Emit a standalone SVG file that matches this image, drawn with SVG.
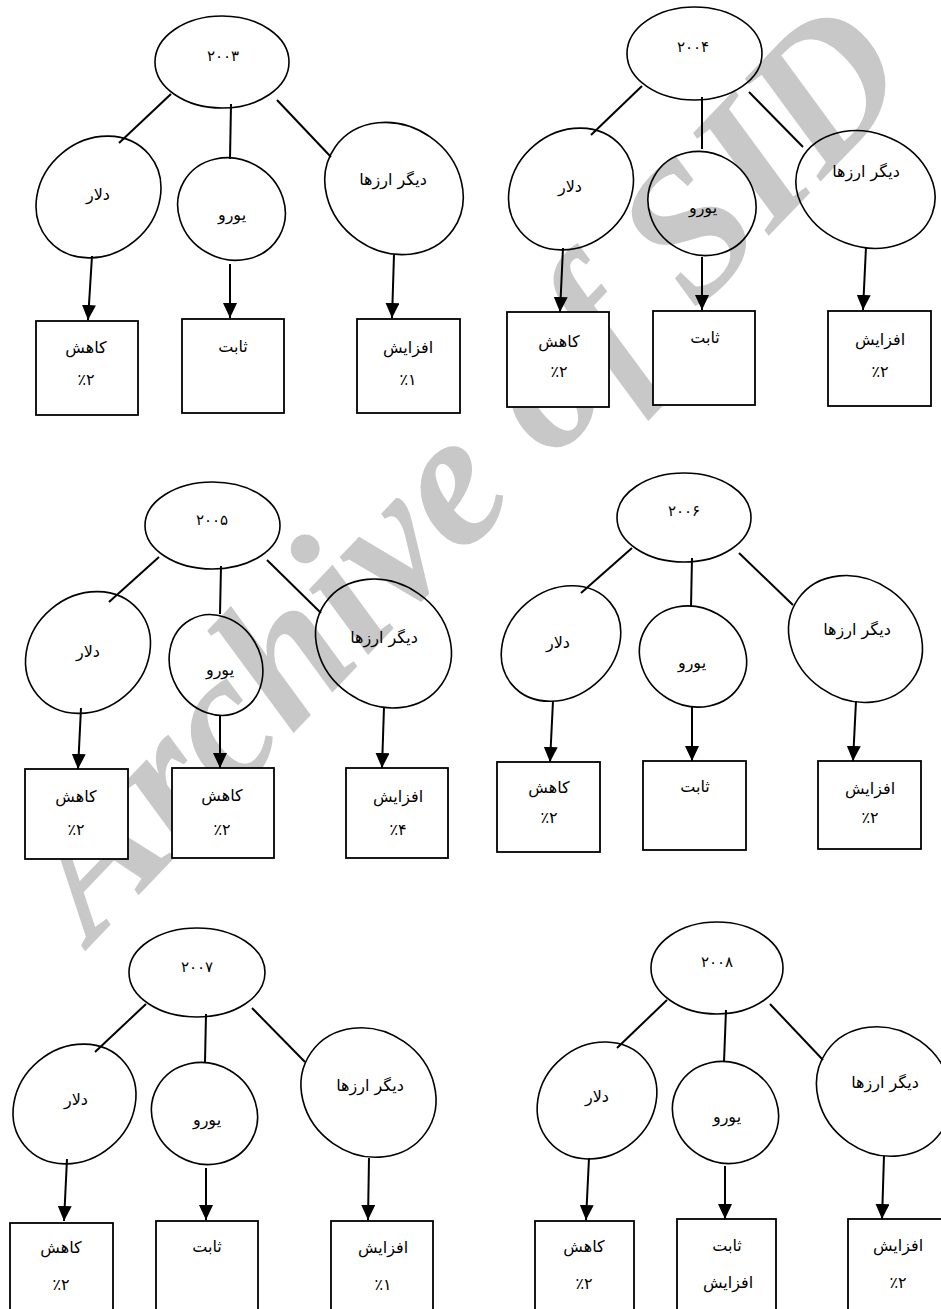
<svg xmlns="http://www.w3.org/2000/svg" width="941" height="1309" viewBox="0 0 941 1309">
<style>
.wm{font-family:"Liberation Serif",serif;font-weight:bold;font-style:italic;font-size:192px;fill:#c8c8c8}
ellipse{fill:none;stroke:#000;stroke-width:1.6}
.bx{fill:#fff;stroke:#000;stroke-width:1.8}
.ln{stroke:#000;stroke-width:2;fill:none}
.ar{stroke:#000;stroke-width:2;fill:none;marker-end:url(#ah)}
text.t{font-family:"DejaVu Sans","Noto Sans",sans-serif;font-size:16px;text-anchor:middle;fill:#000}
text.y{font-size:15px;letter-spacing:1.5px}
</style>
<defs>
<marker id="ah" markerUnits="userSpaceOnUse" markerWidth="16" markerHeight="14" refX="15" refY="7" orient="auto">
<path d="M0,0 L15,7 L0,14 z" fill="#000"/>
</marker>
</defs>
<text class="wm" transform="translate(92,944) rotate(-46.3)">Archive of SID</text>

<g id="connectors">
<!-- 2003 -->
<line class="ln" x1="171" y1="94" x2="119" y2="143"/>
<line class="ln" x1="231" y1="104" x2="230" y2="159"/>
<line class="ln" x1="277" y1="100" x2="331" y2="157"/>
<line class="ar" x1="92" y1="256" x2="88" y2="320"/>
<line class="ar" x1="230" y1="264" x2="230" y2="318"/>
<line class="ar" x1="394" y1="255" x2="392" y2="318"/>
<!-- 2004 -->
<line class="ln" x1="642" y1="86" x2="591" y2="135"/>
<line class="ln" x1="702" y1="97" x2="702" y2="149"/>
<line class="ln" x1="749" y1="92" x2="803" y2="147"/>
<line class="ar" x1="563" y1="248" x2="560" y2="312"/>
<line class="ar" x1="702" y1="257" x2="702" y2="310"/>
<line class="ar" x1="866" y1="247" x2="863" y2="310"/>
<!-- 2005 -->
<line class="ln" x1="159" y1="557" x2="109" y2="602"/>
<line class="ln" x1="221" y1="566" x2="220" y2="614"/>
<line class="ln" x1="267" y1="560" x2="321" y2="613"/>
<line class="ar" x1="81" y1="708" x2="78" y2="769"/>
<line class="ar" x1="220" y1="716" x2="220" y2="768"/>
<line class="ar" x1="384" y1="707" x2="382" y2="768"/>
<!-- 2006 -->
<line class="ln" x1="632" y1="548" x2="581" y2="593"/>
<line class="ln" x1="692" y1="558" x2="691" y2="607"/>
<line class="ln" x1="739" y1="553" x2="793" y2="605"/>
<line class="ar" x1="553" y1="701" x2="550" y2="762"/>
<line class="ar" x1="692" y1="707" x2="692" y2="761"/>
<line class="ar" x1="856" y1="701" x2="853" y2="761"/>
<!-- 2007 -->
<line class="ln" x1="146" y1="1004" x2="95" y2="1052"/>
<line class="ln" x1="206" y1="1014" x2="205" y2="1063"/>
<line class="ln" x1="252" y1="1008" x2="305" y2="1062"/>
<line class="ar" x1="67" y1="1159" x2="64" y2="1221"/>
<line class="ar" x1="206" y1="1168" x2="206" y2="1220"/>
<line class="ar" x1="369" y1="1158" x2="368" y2="1220"/>
<!-- 2008 -->
<line class="ln" x1="667" y1="1000" x2="617" y2="1048"/>
<line class="ln" x1="726" y1="1010" x2="724" y2="1062"/>
<line class="ln" x1="770" y1="1004" x2="823" y2="1060"/>
<line class="ar" x1="589" y1="1158" x2="586" y2="1220"/>
<line class="ar" x1="725" y1="1166" x2="725" y2="1219"/>
<line class="ar" x1="884" y1="1156" x2="882" y2="1219"/>
</g>

<!-- ===== 2003 ===== -->
<g id="y2003"><ellipse cx="222" cy="62" rx="67" ry="46"/><text class="t y" x="223" y="61">۲۰۰۳</text></g>
<g id="y2003-dollar"><ellipse cx="98.5" cy="197" rx="66" ry="57" transform="rotate(-40 98.5 197)"/><text class="t" x="98" y="200">دلار</text></g>
<g id="y2003-euro"><ellipse cx="231.5" cy="209" rx="55" ry="50" transform="rotate(30 231.5 209)"/><text class="t" x="232" y="220">یورو</text></g>
<g id="y2003-other"><ellipse cx="394" cy="188.5" rx="72" ry="63" transform="rotate(35 394 188.5)"/><text class="t" x="393" y="185">دیگر ارزها</text></g>
<g id="y2003-b1"><rect class="bx" x="36" y="321" width="102" height="94"/><text class="t" x="86" y="353">کاهش</text><text class="t" x="86" y="385">٪۲</text></g>
<g id="y2003-b2"><rect class="bx" x="182" y="319" width="102" height="94"/><text class="t" x="233" y="352">ثابت</text></g>
<g id="y2003-b3"><rect class="bx" x="357" y="319" width="103" height="94"/><text class="t" x="408" y="353">افزایش</text><text class="t" x="408" y="385">٪۱</text></g>

<!-- ===== 2004 ===== -->
<g id="y2004"><ellipse cx="694.5" cy="53.5" rx="67.5" ry="46.5"/><text class="t y" x="693" y="52">۲۰۰۴</text></g>
<g id="y2004-dollar"><ellipse cx="571" cy="189" rx="66" ry="57" transform="rotate(-40 571 189)"/><text class="t" x="570" y="192">دلار</text></g>
<g id="y2004-euro"><ellipse cx="702" cy="203.5" rx="55" ry="51" transform="rotate(30 702 203.5)"/><text class="t" x="703" y="213">یورو</text></g>
<g id="y2004-other"><ellipse cx="865.5" cy="189.5" rx="71" ry="57" transform="rotate(20 865.5 189.5)"/><text class="t" x="866" y="177">دیگر ارزها</text></g>
<g id="y2004-b1"><rect class="bx" x="507" y="312" width="102" height="95"/><text class="t" x="559" y="347">کاهش</text><text class="t" x="559" y="377">٪۲</text></g>
<g id="y2004-b2"><rect class="bx" x="653" y="311" width="102" height="94"/><text class="t" x="705" y="343">ثابت</text></g>
<g id="y2004-b3"><rect class="bx" x="828" y="311" width="103" height="95"/><text class="t" x="880" y="345">افزایش</text><text class="t" x="880" y="377">٪۲</text></g>

<!-- ===== 2005 ===== -->
<g id="y2005"><ellipse cx="212.5" cy="525.5" rx="67.5" ry="43.5"/><text class="t y" x="212" y="525">۲۰۰۵</text></g>
<g id="y2005-dollar"><ellipse cx="88" cy="652.5" rx="66" ry="57" transform="rotate(-40 88 652.5)"/><text class="t" x="88" y="657">دلار</text></g>
<g id="y2005-euro"><ellipse cx="216" cy="665" rx="52" ry="45" transform="rotate(60 216 665)"/><text class="t" x="220" y="675">یورو</text></g>
<g id="y2005-other"><ellipse cx="383.5" cy="643.5" rx="71" ry="61" transform="rotate(35 383.5 643.5)"/><text class="t" x="384" y="643">دیگر ارزها</text></g>
<g id="y2005-b1"><rect class="bx" x="25" y="769" width="103" height="90"/><text class="t" x="76" y="802">کاهش</text><text class="t" x="76" y="835">٪۲</text></g>
<g id="y2005-b2"><rect class="bx" x="172" y="768" width="102" height="90"/><text class="t" x="222" y="801">کاهش</text><text class="t" x="222" y="835">٪۲</text></g>
<g id="y2005-b3"><rect class="bx" x="346" y="768" width="102" height="90"/><text class="t" x="398" y="802">افزایش</text><text class="t" x="398" y="835">٪۴</text></g>

<!-- ===== 2006 ===== -->
<g id="y2006"><ellipse cx="684" cy="517.5" rx="67" ry="44.5"/><text class="t y" x="684" y="516">۲۰۰۶</text></g>
<g id="y2006-dollar"><ellipse cx="561" cy="643.5" rx="64" ry="53" transform="rotate(-40 561 643.5)"/><text class="t" x="558" y="648">دلار</text></g>
<g id="y2006-euro"><ellipse cx="693" cy="656.5" rx="55" ry="49" transform="rotate(30 693 656.5)"/><text class="t" x="692" y="668">یورو</text></g>
<g id="y2006-other"><ellipse cx="855.5" cy="639" rx="70" ry="60" transform="rotate(35 855.5 639)"/><text class="t" x="857" y="635">دیگر ارزها</text></g>
<g id="y2006-b1"><rect class="bx" x="497" y="762" width="103" height="90"/><text class="t" x="549" y="793">کاهش</text><text class="t" x="549" y="823">٪۲</text></g>
<g id="y2006-b2"><rect class="bx" x="643" y="761" width="103" height="89"/><text class="t" x="695" y="792">ثابت</text></g>
<g id="y2006-b3"><rect class="bx" x="818" y="761" width="103" height="88"/><text class="t" x="870" y="794">افزایش</text><text class="t" x="870" y="823">٪۲</text></g>

<!-- ===== 2007 ===== -->
<g id="y2007"><ellipse cx="197" cy="972.5" rx="68" ry="44.5"/><text class="t y" x="197" y="972">۲۰۰۷</text></g>
<g id="y2007-dollar"><ellipse cx="74.5" cy="1104" rx="65" ry="56" transform="rotate(-40 74.5 1104)"/><text class="t" x="76" y="1105">دلار</text></g>
<g id="y2007-euro"><ellipse cx="204.5" cy="1113.5" rx="54" ry="50" transform="rotate(30 204.5 1113.5)"/><text class="t" x="207" y="1125">یورو</text></g>
<g id="y2007-other"><ellipse cx="368.5" cy="1092.5" rx="70" ry="62" transform="rotate(35 368.5 1092.5)"/><text class="t" x="370" y="1091">دیگر ارزها</text></g>
<g id="y2007-b1"><rect class="bx" x="10" y="1223" width="103" height="100"/><text class="t" x="61" y="1253">کاهش</text><text class="t" x="61" y="1290">٪۲</text></g>
<g id="y2007-b2"><rect class="bx" x="156" y="1221" width="102" height="100"/><text class="t" x="207" y="1252">ثابت</text></g>
<g id="y2007-b3"><rect class="bx" x="331" y="1221" width="102" height="100"/><text class="t" x="383" y="1253">افزایش</text><text class="t" x="383" y="1290">٪۱</text></g>

<!-- ===== 2008 ===== -->
<g id="y2008"><ellipse cx="717" cy="968" rx="66" ry="46"/><text class="t y" x="717" y="967">۲۰۰۸</text></g>
<g id="y2008-dollar"><ellipse cx="597" cy="1100.5" rx="63" ry="55" transform="rotate(-40 597 1100.5)"/><text class="t" x="597" y="1102">دلار</text></g>
<g id="y2008-euro"><ellipse cx="725.5" cy="1112.5" rx="54" ry="50" transform="rotate(30 725.5 1112.5)"/><text class="t" x="727" y="1122">یورو</text></g>
<g id="y2008-other"><ellipse cx="884" cy="1091.5" rx="70" ry="62" transform="rotate(35 884 1091.5)"/><text class="t" x="885" y="1088">دیگر ارزها</text></g>
<g id="y2008-b1"><rect class="bx" x="535" y="1221" width="99" height="100"/><text class="t" x="584" y="1252">کاهش</text><text class="t" x="584" y="1289">٪۲</text></g>
<g id="y2008-b2"><rect class="bx" x="677" y="1219" width="99" height="100"/><text class="t" x="727" y="1251">ثابت</text><text class="t" x="728" y="1288">افزایش</text></g>
<g id="y2008-b3"><rect class="bx" x="848" y="1219" width="100" height="100"/><text class="t" x="898" y="1251">افزایش</text><text class="t" x="898" y="1288">٪۲</text></g>
</svg>
